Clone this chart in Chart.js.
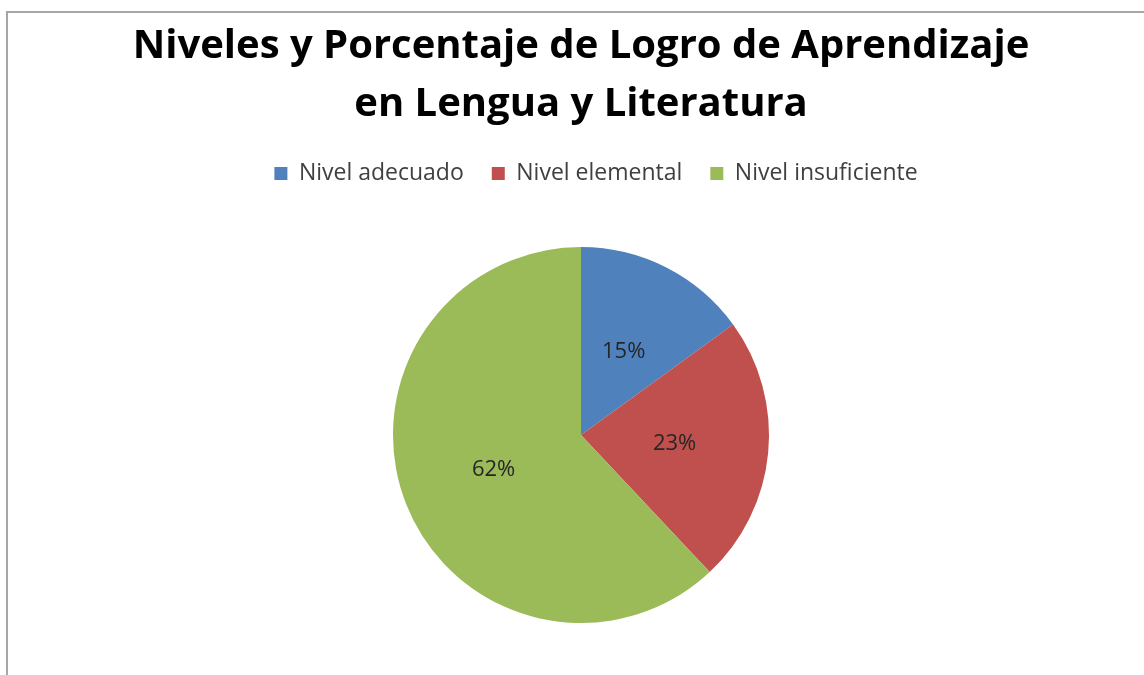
<!DOCTYPE html>
<html>
<head>
<meta charset="utf-8">
<script src="https://cdn.jsdelivr.net/npm/chart.js"></script>
<style>
  html, body { margin: 0; padding: 0; background: #fff; }
  #frame {
    position: absolute; left: 6px; top: 11px; width: 1138px; height: 664px;
    border-left: 2px solid #a6a6a6; border-top: 2px solid #a6a6a6; box-sizing: border-box;
  }
  #wrap { position: absolute; left: 0; top: 0; width: 1144px; height: 675px; }
</style>
</head>
<body>
<div id="frame"></div>
<div id="wrap"><canvas id="chart"></canvas></div>
<script>
// ============================= data

const categories = ['Nivel adecuado', 'Nivel elemental', 'Nivel insuficiente']
const percentages = [15, 23, 62]
const colors = ['#4F81BD', '#C0504D', '#9BBB59']
const titleLines = ['Niveles y Porcentaje de Logro de Aprendizaje', 'en Lengua y Literatura']

// ============================= labels inside slices

const sliceLabels = {
    id: 'sliceLabels',
    afterLayout(chart) { // the legend sits a bit right of centre in the original
        chart.legend.left += 15
        chart.legend.right += 15
    },
    afterDatasetsDraw(chart) {
        const ctx = chart.ctx
        const meta = chart.getDatasetMeta(0)
        ctx.save()
        ctx.font = '22px "Open Sans", sans-serif'
        ctx.fillStyle = '#262626'
        ctx.textAlign = 'center'
        ctx.textBaseline = 'middle'
        meta.data.forEach((arc, i) => {
            const mid = (arc.startAngle + arc.endAngle) / 2
            const r = arc.outerRadius * 0.5
            ctx.fillText(percentages[i] + '%', arc.x + Math.cos(mid) * r, arc.y + Math.sin(mid) * r)
        })
        ctx.restore()
    }
}

new Chart(document.getElementById('chart'), {
    type: 'pie',
    data: {
        labels: categories,
        datasets: [{
            data: percentages,
            backgroundColor: colors,
            borderWidth: 0,
            radius: 188
        }]
    },
    options: {
        responsive: true,
        maintainAspectRatio: false,
        animation: false,
        layout: { padding: { left: 18, bottom: -5 } },
        plugins: {
            title: {
                display: true,
                text: titleLines,
                color: '#000',
                font: { family: '"Open Sans", sans-serif', size: 40, weight: 'bold', lineHeight: 1.45 },
                padding: { top: 18, bottom: 0 }
            },
            legend: {
                position: 'top',
                labels: {
                    color: '#404040',
                    font: { family: '"Open Sans", sans-serif', size: 23 },
                    boxWidth: 13,
                    boxHeight: 13,
                    padding: 28
                }
            },
            tooltip: { enabled: false }
        }
    },
    plugins: [sliceLabels]
})
</script>
</body>
</html>
